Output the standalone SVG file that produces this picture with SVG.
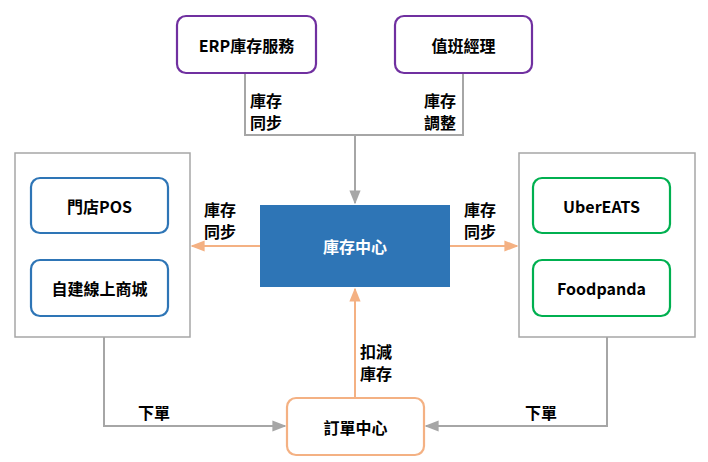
<svg xmlns="http://www.w3.org/2000/svg" width="708" height="462" viewBox="0 0 708 462">
<style>
text{font-family:"Noto Sans CJK TC","Noto Sans CJK SC",sans-serif;font-weight:bold;font-size:16px;fill:#000}
.c{text-anchor:middle;dominant-baseline:central}
.node{fill:#fff;stroke-width:2.2}
.grp{fill:#fff;stroke:#a6a6a6;stroke-width:1.5}
.g{fill:none;stroke:#a6a6a6;stroke-width:2}
.o{fill:none;stroke:#f4b183;stroke-width:2}
</style>
<defs>
<marker id="ag" viewBox="0 0 10 10" refX="9" refY="5" markerWidth="7" markerHeight="7" orient="auto"><path d="M0,1L10,5L0,9z" fill="#a6a6a6"/></marker>
<marker id="ao" viewBox="0 0 10 10" refX="9" refY="5" markerWidth="7" markerHeight="7" orient="auto"><path d="M0,1L10,5L0,9z" fill="#f4b183"/></marker>
</defs>
<g id="leftGroup"><rect class="grp" x="15" y="153" width="175" height="184"/></g>
<g id="rightGroup"><rect class="grp" x="519" y="153" width="176" height="184"/></g>
<g id="connectors">
<path class="g" d="M245,73V135H463V73M355,135V203" marker-end="url(#ag)"/>
<path class="o" d="M260,246H192" marker-end="url(#ao)"/>
<path class="o" d="M450,246H517" marker-end="url(#ao)"/>
<path class="o" d="M355,398V289" marker-end="url(#ao)"/>
<path class="g" d="M104,337V426H285" marker-end="url(#ag)"/>
<path class="g" d="M607,337V426H426" marker-end="url(#ag)"/>
<text x="250" y="107">庫存</text><text x="250" y="129">同步</text>
<text x="424" y="107">庫存</text><text x="424" y="129">調整</text>
<text x="204" y="216">庫存</text><text x="204" y="238">同步</text>
<text x="464" y="216">庫存</text><text x="464" y="238">同步</text>
<text x="360" y="358">扣減</text><text x="360" y="380">庫存</text>
<text x="138" y="419">下單</text><text x="525" y="419">下單</text>
</g>
<g id="erp"><rect class="node" x="177" y="16" width="139" height="57" rx="9" stroke="#7030a0"/><text class="c" x="246.5" y="44.5">ERP庫存服務</text></g>
<g id="manager"><rect class="node" x="395" y="16" width="137" height="57" rx="9" stroke="#7030a0"/><text class="c" x="463.5" y="44.5">值班經理</text></g>
<g id="center"><rect x="260" y="205" width="190" height="82" fill="#2e75b6"/><text class="c" x="355" y="246" style="fill:#fff">庫存中心</text></g>
<g id="pos"><rect class="node" x="31" y="178" width="137" height="55" rx="9" stroke="#2e75b6"/><text class="c" x="99.5" y="205.5">門店POS</text></g>
<g id="shop"><rect class="node" x="31" y="260" width="137" height="56" rx="9" stroke="#2e75b6"/><text class="c" x="99.5" y="288">自建線上商城</text></g>
<g id="uber"><rect class="node" x="533" y="178" width="137" height="55" rx="9" stroke="#00b050"/><text class="c" x="601.5" y="205.5">UberEATS</text></g>
<g id="foodpanda"><rect class="node" x="533" y="260" width="137" height="56" rx="9" stroke="#00b050"/><text class="c" x="601.5" y="288">Foodpanda</text></g>
<g id="order"><rect class="node" x="287" y="398" width="137" height="57" rx="9" stroke="#f4b183"/><text class="c" x="355.5" y="426.5">訂單中心</text></g>
</svg>
